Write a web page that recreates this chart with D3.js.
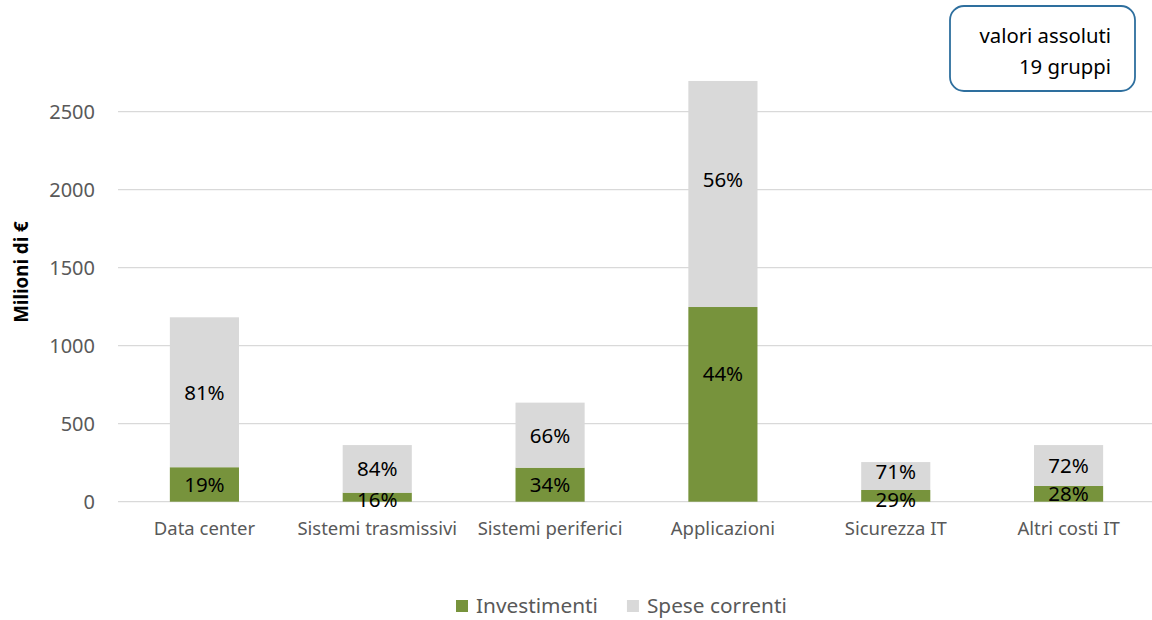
<!DOCTYPE html>
<html>
<head>
<meta charset="utf-8">
<script src="https://cdn.jsdelivr.net/npm/d3@7"></script>
<style>
  html, body { margin: 0; padding: 0; background: #fff; }
  svg { display: block; font-family: "Noto Sans", "Open Sans", sans-serif; }
</style>
</head>
<body>
<svg id="chart" width="1152" height="620"></svg>
<script>
// Spesa IT per area: investimenti e spese correnti (milioni di €)
const categories = ["Data center", "Sistemi trasmissivi", "Sistemi periferici", "Applicazioni", "Sicurezza IT", "Altri costi IT"];
const investimenti = [221, 58, 218, 1248, 75, 101];
const speseCorrenti = [961, 305, 417, 1449, 179, 262];
const pctInvestimenti = ["19%", "16%", "34%", "44%", "29%", "28%"];
const pctSpeseCorrenti = ["81%", "84%", "66%", "56%", "71%", "72%"];
const yTicks = [0, 500, 1000, 1500, 2000, 2500];
const seriesNames = ["Investimenti", "Spese correnti"];

const colors = { inv: "#77933C", spese: "#D9D9D9", grid: "#D9D9D9", text: "#595959" };

// vertical nudges (px) for labels that do not sit on their segment centre
const labelNudge = {
  "Applicazioni": { inv: -31, spese: -14 },
  "Sicurezza IT": { inv: 4, spese: -4 },
  "Sistemi trasmissivi": { inv: 2, spese: 0 }
};

const svg = d3.select("#chart");

const x = d3.scaleBand().domain(categories).range([118, 1155]).paddingInner(0.6).paddingOuter(0.3);
const y = d3.scaleLinear().domain([0, 2500]).range([501.7, 111.7]);

// gridlines
svg.append("g").selectAll("line").data(yTicks).join("line")
  .attr("x1", 118).attr("x2", 1155)
  .attr("y1", d => y(d)).attr("y2", d => y(d))
  .attr("stroke", colors.grid).attr("stroke-width", 1.3);

// y tick labels
const yAxis = d3.axisLeft(y).tickValues(yTicks).tickSize(0).tickPadding(0).tickFormat(d3.format("d"));
const gy = svg.append("g").attr("transform", "translate(95,0)").call(yAxis);
gy.select(".domain").remove();
gy.selectAll("text").attr("font-size", 20).attr("fill", colors.text)
  .attr("font-family", "'Noto Sans', sans-serif");

// axis title
svg.append("text")
  .attr("transform", "translate(20,272) rotate(-90)")
  .attr("text-anchor", "middle").attr("dominant-baseline", "central")
  .attr("font-size", 18.7).attr("font-weight", "bold").attr("fill", "#000")
  .text("Milioni di €");

// stacked data
const rows = categories.map((c, i) => ({ cat: c, inv: investimenti[i], spese: speseCorrenti[i] }));
const stack = d3.stack().keys(["inv", "spese"])(rows);

const gBars = svg.append("g");
stack.forEach(layer => {
  gBars.append("g").selectAll("rect").data(layer).join("rect")
    .attr("x", d => x(d.data.cat))
    .attr("width", x.bandwidth())
    .attr("y", d => y(d[1]))
    .attr("height", d => y(d[0]) - y(d[1]))
    .attr("fill", layer.key === "inv" ? colors.inv : colors.spese);
});

// percentage labels
stack.forEach(layer => {
  const pct = layer.key === "inv" ? pctInvestimenti : pctSpeseCorrenti;
  svg.append("g").selectAll("text").data(layer).join("text")
    .attr("x", d => x(d.data.cat) + x.bandwidth() / 2)
    .attr("y", d => (y(d[0]) + y(d[1])) / 2 + ((labelNudge[d.data.cat] || {})[layer.key] || 0))
    .attr("dy", "0.36em")
    .attr("text-anchor", "middle")
    .attr("font-size", 20.5)
    .attr("fill", "#000")
    .text((d, i) => pct[i]);
});

// category labels
const xAxis = d3.axisBottom(x).tickSize(0).tickPadding(0);
const gx = svg.append("g").attr("transform", "translate(0,535)").call(xAxis);
gx.select(".domain").remove();
gx.selectAll("text").attr("font-size", 18.5).attr("fill", colors.text)
  .attr("font-family", "'Noto Sans', sans-serif").attr("dy", 0);

// legend
const legend = svg.append("g");
const legendItems = [
  { name: seriesNames[0], color: colors.inv },
  { name: seriesNames[1], color: colors.spese }
];
let lx = 456;
legendItems.forEach(item => {
  legend.append("rect").attr("x", lx).attr("y", 600).attr("width", 12).attr("height", 12).attr("fill", item.color);
  const t = legend.append("text").attr("x", lx + 20).attr("y", 613)
    .attr("font-size", 20.8).attr("fill", colors.text).text(item.name);
  lx += 20 + t.node().getComputedTextLength() + 29;
});

// note box
svg.append("rect").attr("x", 950).attr("y", 6).attr("width", 185).attr("height", 85)
  .attr("rx", 14).attr("ry", 14)
  .attr("fill", "#fff").attr("stroke", "#2E6F9E").attr("stroke-width", 1.8);
svg.append("text").attr("x", 1111).attr("y", 43).attr("text-anchor", "end")
  .attr("font-size", 20.3).attr("fill", "#000").text("valori assoluti");
svg.append("text").attr("x", 1111).attr("y", 74).attr("text-anchor", "end")
  .attr("font-size", 20.3).attr("fill", "#000").text("19 gruppi");
</script>
</body>
</html>
